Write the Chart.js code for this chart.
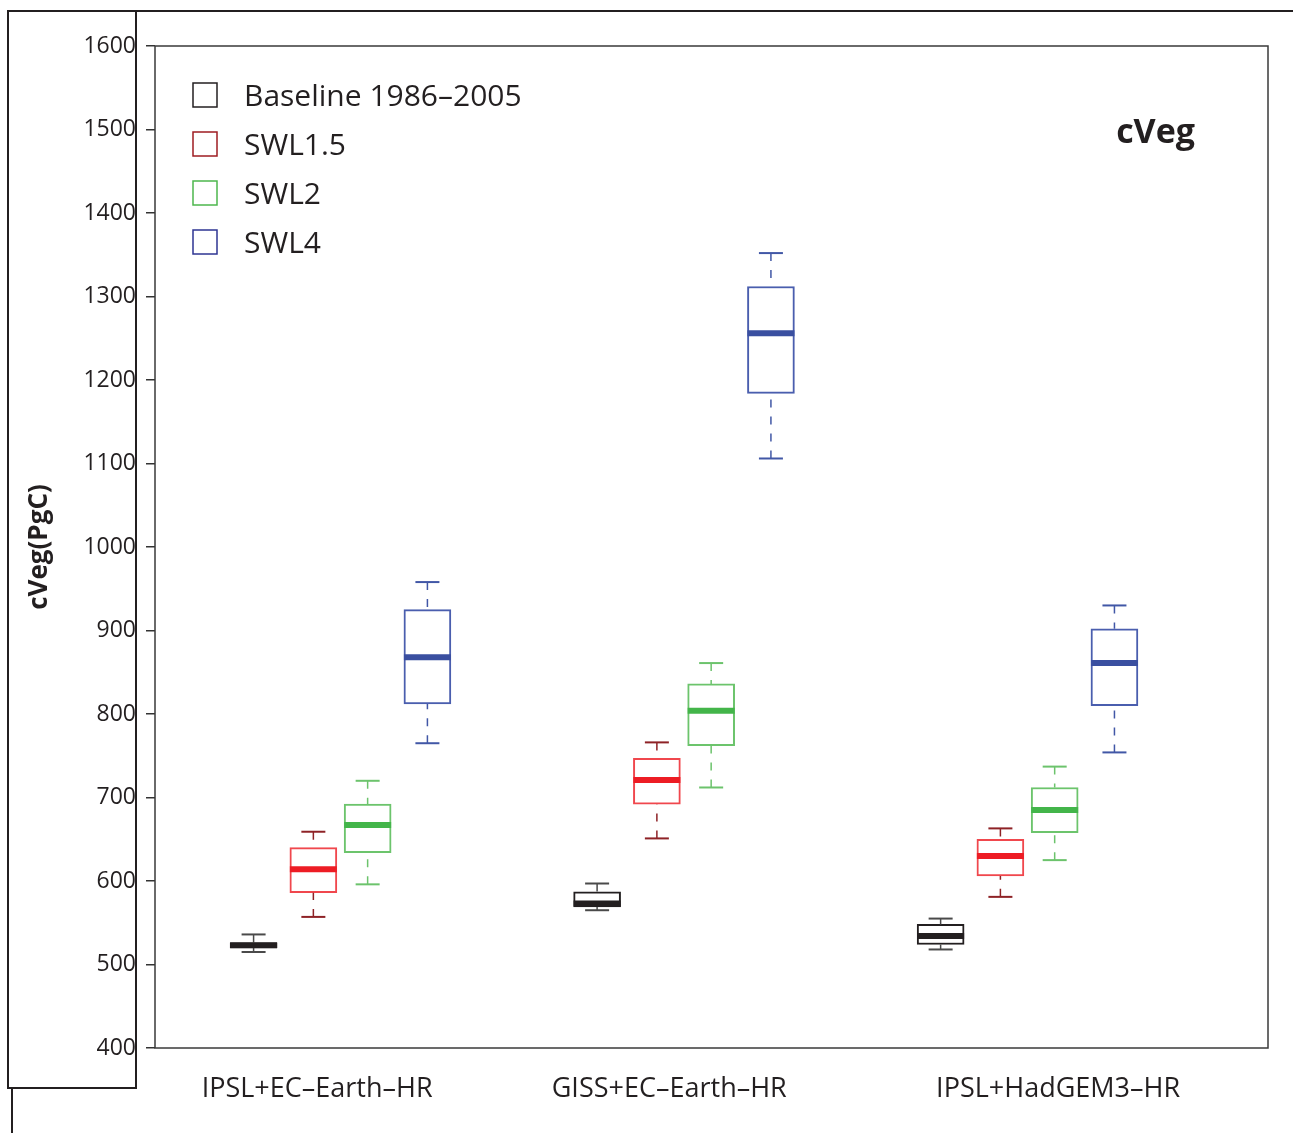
<!DOCTYPE html>
<html>
<head>
<meta charset="utf-8">
<script src="https://cdn.jsdelivr.net/npm/chart.js@4"></script>
<style>
  html, body { margin: 0; padding: 0; background: #fff; }
  #wrap { position: relative; width: 1293px; height: 1133px; }
</style>
</head>
<body>
<div id="wrap"><canvas id="chart"></canvas></div>
<script>
// categories and series
const groups = ['IPSL+EC–Earth–HR', 'GISS+EC–Earth–HR', 'IPSL+HadGEM3–HR'];
const seriesNames = ['Baseline 1986–2005', 'SWL1.5', 'SWL2', 'SWL4'];

// five-number summaries per group: [min, q1, median, q3, max] (PgC)
const baseline = [[515, 520, 523, 526, 536], [565, 569, 573, 587, 597], [518, 524, 534, 548, 555]];
const swl15 = [[557, 586, 614, 640, 659], [651, 692, 721, 747, 766], [581, 606, 630, 650, 663]];
const swl2 = [[596, 634, 667, 692, 720], [712, 762, 804, 836, 861], [625, 658, 685, 712, 737]];
const swl4 = [[765, 812, 868, 925, 958], [1106, 1184, 1256, 1312, 1352], [754, 810, 861, 902, 930]];
const series = [baseline, swl15, swl2, swl4];

// look
const boxColors = ['#231f20', '#f0474d', '#6cc46c', '#4a5eae'];
const medianColors = ['#231f20', '#ed1c24', '#43b54a', '#3a4fa0'];
const whiskerColors = ['#4a4a4a', '#8e2226', '#6cc36c', '#4157a6'];
const legendColors = ['#231f20', '#9e1c22', '#4db74d', '#2e3592'];
const slotOffsets = [-0.253, -0.079, 0.079, 0.253];
const labelPos = [-0.068, 0.957, 2.089];

const datasets = [];
series.forEach((s, i) => {
    const xs = groups.map((g, j) => j + slotOffsets[i]);
    // box
    datasets.push({
        type: 'bar',
        label: seriesNames[i],
        data: xs.map((x, j) => ({ x: x, y: [s[j][1], s[j][3]] })),
        backgroundColor: '#ffffff',
        borderColor: boxColors[i],
        borderWidth: 2,
        borderSkipped: false,
        grouped: false,
        barPercentage: 1,
        categoryPercentage: 1,
        maxBarThickness: 47,
        order: 3
    });
    // whiskers (dashed)
    const wdata = [];
    xs.forEach((x, j) => {
        wdata.push({ x: x, y: s[j][4] }, { x: x, y: s[j][3] }, { x: x, y: null });
        wdata.push({ x: x, y: s[j][0] }, { x: x, y: s[j][1] }, { x: x, y: null });
    });
    datasets.push({
        type: 'line',
        label: seriesNames[i] + ' whiskers',
        data: wdata,
        borderColor: whiskerColors[i],
        borderWidth: 1.5,
        borderDash: [8, 9],
        pointRadius: 0,
        spanGaps: false,
        fill: false,
        order: 2
    });
    // caps
    datasets.push({
        type: 'scatter',
        label: seriesNames[i] + ' caps',
        data: xs.flatMap((x, j) => [{ x: x, y: s[j][0] }, { x: x, y: s[j][4] }]),
        pointStyle: 'line',
        pointRadius: 12,
        pointHoverRadius: 12,
        pointBorderWidth: 2,
        pointBorderColor: whiskerColors[i],
        borderColor: whiskerColors[i],
        order: 1
    });
    // medians
    datasets.push({
        type: 'scatter',
        label: seriesNames[i] + ' median',
        data: xs.map((x, j) => ({ x: x, y: s[j][2] })),
        pointStyle: 'line',
        pointRadius: 23.5,
        pointHoverRadius: 23.5,
        pointBorderWidth: 6,
        pointBorderColor: medianColors[i],
        borderColor: medianColors[i],
        order: 0
    });
});

const framePlugin = {
    id: 'frame',
    beforeDraw(chart) {
        const ctx = chart.ctx;
        ctx.save();
        ctx.fillStyle = '#fff';
        ctx.fillRect(0, 0, chart.width, chart.height);
        ctx.strokeStyle = '#231f20';
        ctx.lineWidth = 2;
        ctx.strokeRect(8, 11, 128, 1077);
        ctx.beginPath();
        ctx.moveTo(136, 11);
        ctx.lineTo(chart.width, 11);
        ctx.moveTo(12, 1088);
        ctx.lineTo(12, chart.height);
        ctx.stroke();
        ctx.restore();
    },
    afterDraw(chart) {
        const a = chart.chartArea;
        const ctx = chart.ctx;
        ctx.save();
        ctx.strokeStyle = '#3a3a3a';
        ctx.lineWidth = 1.5;
        ctx.strokeRect(a.left, a.top, a.right - a.left, a.bottom - a.top);

        // panel title
        ctx.fillStyle = '#231f20';
        ctx.font = 'bold 34px "Open Sans"';
        ctx.textAlign = 'right';
        ctx.textBaseline = 'middle';
        ctx.fillText('cVeg', a.right - 73, a.top + 87);

        // legend
        ctx.font = '30px "Open Sans"';
        ctx.textAlign = 'left';
        seriesNames.forEach((name, i) => {
            const y = a.top + 37 + i * 49;
            ctx.strokeStyle = legendColors[i];
            ctx.lineWidth = 1.5;
            ctx.strokeRect(a.left + 38, y, 24, 24);
            ctx.fillStyle = '#231f20';
            ctx.fillText(name, a.left + 89, y + 14);
        });
        ctx.restore();
    }
};

new Chart(document.getElementById('chart'), {
    type: 'bar',
    data: { datasets: datasets },
    plugins: [framePlugin],
    options: {
        responsive: true,
        maintainAspectRatio: false,
        animation: false,
        events: [],
        layout: { autoPadding: false, padding: { top: 46, right: 25, left: 0, bottom: 0 } },
        plugins: {
            legend: { display: false },
            tooltip: { enabled: false }
        },
        scales: {
            x: {
                type: 'linear',
                min: -0.54,
                max: 2.70,
                offset: false,
                grid: { display: false, drawTicks: false, offset: false },
                border: { display: false },
                afterBuildTicks: (scale) => {
                    scale.ticks = labelPos.map(v => ({ value: v }));
                },
                afterFit: (scale) => {
                    scale.height = 85;
                    scale.paddingLeft = 0;
                    scale.paddingRight = 0;
                },
                ticks: {
                    autoSkip: false,
                    maxRotation: 0,
                    padding: 25,
                    color: '#231f20',
                    font: { family: 'Open Sans', size: 27 },
                    callback: (value, index) => groups[index]
                }
            },
            y: {
                min: 400,
                max: 1600,
                afterFit: (scale) => { scale.width = 155; },
                grid: {
                    drawOnChartArea: false,
                    drawTicks: true,
                    tickLength: 9,
                    color: '#333',
                    lineWidth: 1.5
                },
                border: { display: false },
                ticks: {
                    stepSize: 100,
                    padding: 10,
                    color: '#231f20',
                    font: { family: 'Open Sans', size: 23 },
                    callback: (value) => String(value)
                },
                title: {
                    display: true,
                    text: 'cVeg(PgC)',
                    color: '#231f20',
                    font: { family: 'Open Sans', size: 26, weight: 'bold' },
                    padding: { top: 24, bottom: 0 }
                }
            }
        }
    }
});
</script>
</body>
</html>
